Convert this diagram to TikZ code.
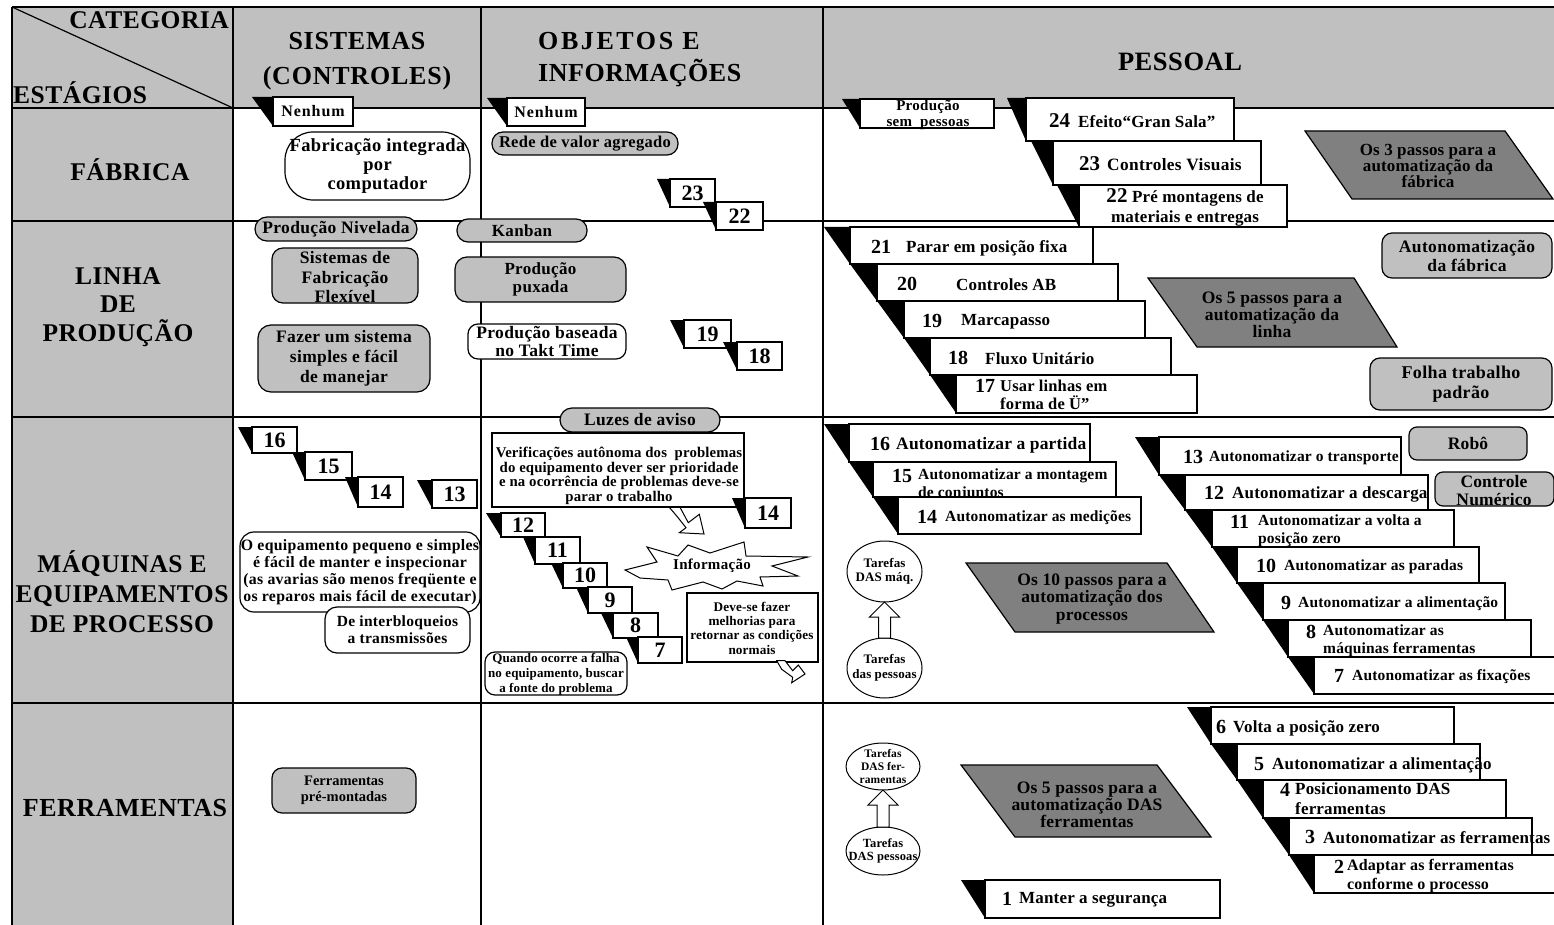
\documentclass[tikz,border=0pt]{standalone}
\usepackage{fontspec}
\setmainfont{Liberation Serif}
\newfontfamily\tnr{Liberation Serif}
\usetikzlibrary{shapes.geometric,calc}
\definecolor{lightgr}{HTML}{C0C0C0}
\definecolor{darkgr}{HTML}{808080}
% bold serif at a given size / line skip / letter spacing
\newcommand\setfnt[3]{\tnr\bfseries\fontsize{#1}{#2}\selectfont\addfontfeature{LetterSpace=#3}}
\newcommand\numf{\tnr\bfseries\fontsize{22}{22}\selectfont}
% black wedge on the left side of a step box
\newcommand\flagtip[2]{\fill (#1.north west) -- ++(-#2,0) -- (#1.south west) -- cycle;}
\tikzset{
  gridline/.style={line width=1.8pt},
  frame/.style={draw, line width=1.2pt, inner sep=0pt, outer sep=0pt, anchor=north west},
  wbox/.style={frame, fill=white},
  gbox/.style={frame, fill=lightgr},
  hdtext/.style={inner sep=0pt, font=\setfnt{25.5}{30}{2}, align=center},
  tx/.style={inner sep=0pt, align=center, font=\setfnt{17.5}{20}{2}},
  sn/.style={inner sep=0pt, anchor=west, font=\tnr\bfseries\fontsize{20}{20}\selectfont},
  stt/.style={inner sep=0pt, anchor=west, align=left, font=\setfnt{17}{18}{1}},
  mtt/.style={stt, font=\setfnt{15.5}{17.5}{1}},
  plg/.style={fill=darkgr, draw, line width=1.2pt},
  blockarrow/.style={fill=white, draw, line width=1pt, line join=miter},
  oval/.style={draw, ellipse, line width=1pt, inner sep=0pt, outer sep=0pt, fill=white},
}
\begin{document}
\begin{tikzpicture}[x=1pt,y=-1pt]
\useasboundingbox (0,0) rectangle (1554,925);
% shaded header row and stage column
\fill[lightgr] (12,7) rectangle (1554,108);
\fill[lightgr] (12,108) rectangle (233,925);
% table grid
\draw[gridline] (12,7) -- (1554,7);
\foreach \yy in {108,221,417,703} \draw[gridline] (12,\yy) -- (1554,\yy);
\foreach \xx in {12,233,481,823} \draw[gridline] (\xx,7) -- (\xx,925);
\draw[line width=1.2pt] (12,7) -- (233,108);

% headers
\node[hdtext, anchor=base east] (hcat) at (229,29) {CATEGORIA};
\node[hdtext, anchor=base west] (hest) at (13,104) {ESTÁGIOS};
\node[hdtext, font=\setfnt{26}{35}{3}] (hsis) at (357,61) {SISTEMAS\\(CONTROLES)};
\node[hdtext, font=\setfnt{26}{32}{2}, align=left, anchor=west] (hobj) at (538,60) {{\addfontfeature{LetterSpace=10}OBJETOS E}\\INFORMAÇÕES};
\node[hdtext, font=\setfnt{26.5}{30}{2}] (hpes) at (1180,62) {PESSOAL};

% stages
\node[hdtext] (rfab) at (130,170) {FÁBRICA};
\node[hdtext, font=\setfnt{25.5}{28.5}{2}] (rlin) at (118,307) {LINHA\\DE\\PRODUÇÃO};
\node[hdtext, font=\setfnt{25.5}{30}{2}] (rmaq) at (122,592) {MÁQUINAS E\\EQUIPAMENTOS\\DE PROCESSO};
\node[hdtext, font=\setfnt{26}{30}{2}] (rfer) at (125,808) {FERRAMENTAS};

% ---------------- SISTEMAS (CONTROLES)
\node[wbox, minimum width=80, minimum height=29] (sNen) at (273,97) {};
\flagtip{sNen}{21}
\node[tx, font=\setfnt{16}{18}{6}] (sNenT) at (sNen) {Nenhum};
\node[wbox, rounded corners=28pt, minimum width=185, minimum height=68] (sFab) at (285,132) {};
\node[tx, font=\setfnt{18.5}{19}{2}] (sFabT) at (sFab) {Fabricação integrada\\por\\computador};
\node[gbox, rounded corners=12pt, minimum width=162, minimum height=24] (sNiv) at (255,217) {};
\node[tx] (sNivT) at (sNiv) {Produção Nivelada};
\node[gbox, rounded corners=11pt, minimum width=146, minimum height=55] (sFlex) at (272,248) {};
\node[tx, font=\setfnt{17.5}{19.5}{2}] (sFlexT) at ([yshift=-2pt]sFlex.center) {Sistemas de\\Fabricação\\Flexível};
\node[gbox, rounded corners=13pt, minimum width=172, minimum height=67] (sSimp) at (258,325) {};
\node[tx, font=\setfnt{17.5}{20}{2}] (sSimpT) at (sSimp) {Fazer um sistema\\simples e fácil\\de manejar};

\node[wbox, minimum width=45, minimum height=26] (s16) at (252,427) {\numf 16};
\flagtip{s16}{14}
\node[wbox, minimum width=47, minimum height=28] (s15) at (305,452) {\numf 15};
\flagtip{s15}{13}
\node[wbox, minimum width=45, minimum height=30] (s14) at (358,477) {\numf 14};
\flagtip{s14}{13}
\node[wbox, minimum width=45, minimum height=28] (s13) at (432,480) {\numf 13};
\flagtip{s13}{15}

\node[wbox, rounded corners=14pt, minimum width=240, minimum height=80] (sEq) at (240,532) {};
\node[tx, font=\setfnt{15.8}{17}{2}] (sEqT) at (sEq) {O equipamento pequeno e simples\\é fácil de manter e inspecionar\\(as avarias são menos freqüente e\\os reparos mais fácil de executar)};
\node[wbox, rounded corners=12pt, minimum width=145, minimum height=46] (sInt) at (325,607) {};
\node[tx, font=\setfnt{15.5}{17}{2}] (sIntT) at (sInt) {De interbloqueios\\a transmissões};

\node[gbox, rounded corners=10pt, minimum width=144, minimum height=45] (sFer) at (272,768) {};
\node[tx, font=\setfnt{14.5}{16}{0}] (sFerT) at (sFer) {Ferramentas\\pré-montadas};

% ---------------- OBJETOS E INFORMAÇÕES
\node[wbox, minimum width=78, minimum height=28] (oNen) at (507,98) {};
\flagtip{oNen}{20}
\node[tx, font=\setfnt{16}{18}{6}] (oNenT) at (oNen) {Nenhum};
\node[gbox, rounded corners=11pt, minimum width=186, minimum height=23] (oRede) at (492,132) {};
\node[tx, font=\setfnt{16.5}{18}{2}] (oRedeT) at (oRede) {Rede de valor agregado};
\node[wbox, minimum width=45, minimum height=28] (o23) at (670,179) {\numf 23};
\flagtip{o23}{13}
\node[wbox, minimum width=47, minimum height=28] (o22) at (716,202) {\numf 22};
\flagtip{o22}{13}

\node[gbox, rounded corners=11pt, minimum width=130, minimum height=23] (oKan) at (457,219) {};
\node[tx, font=\setfnt{17}{18}{2}] (oKanT) at (oKan) {Kanban};
\node[gbox, rounded corners=12pt, minimum width=171, minimum height=45] (oPux) at (455,257) {};
\node[tx, font=\setfnt{17}{18}{2}] (oPuxT) at (oPux) {Produção\\puxada};
\node[wbox, rounded corners=10pt, minimum width=158, minimum height=35] (oTakt) at (468,324) {};
\node[tx, font=\setfnt{17.5}{18}{2}] (oTaktT) at (oTakt) {Produção baseada\\no Takt Time};
\node[wbox, minimum width=47, minimum height=28] (o19) at (684,320) {\numf 19};
\flagtip{o19}{14}
\node[wbox, minimum width=45, minimum height=28] (o18) at (737,342) {\numf 18};
\flagtip{o18}{14}

\node[gbox, rounded corners=12pt, minimum width=160, minimum height=24] (oLuz) at (560,408) {};
\node[tx] (oLuzT) at (oLuz) {Luzes de aviso};
\node[wbox, minimum width=252, minimum height=74] (oVer) at (492,433) {};
\node[tx, font=\setfnt{14.8}{14.5}{1}] (oVerT) at (619,476) {Verificações autônoma dos~ problemas\\do equipamento dever ser prioridade\\e na ocorrência de problemas deve-se\\parar o trabalho};
% hollow bent arrow under the text box
\draw[blockarrow] (669.3,507.3) -- (680,507.3) -- (688.3,522.7) -- (699.3,514.3) -- (704,534) -- (679.3,532.7) -- (686,527.7) -- (677.3,516.7) -- cycle;
\node[wbox, minimum width=46, minimum height=30] (o14) at (745,498) {\numf 14};
\flagtip{o14}{13}

\node[wbox, minimum width=44, minimum height=24] (o12) at (501,513) {\numf 12};
\flagtip{o12}{15}
\node[wbox, minimum width=45, minimum height=27] (o11) at (535,537) {\numf 11};
\flagtip{o11}{12}
\node[wbox, minimum width=44, minimum height=25] (o10) at (563,563) {\numf 10};
\flagtip{o10}{12}
\node[wbox, minimum width=44, minimum height=26] (o9) at (588,587) {\numf 9};
\flagtip{o9}{12}
\node[wbox, minimum width=45, minimum height=25] (o8) at (613,613) {\numf 8};
\flagtip{o8}{12}
\node[wbox, minimum width=44, minimum height=26] (o7) at (638,637) {\numf 7};
\flagtip{o7}{12}

% starburst
\draw[fill=white, line width=1pt] (625,570) -- (657,562) -- (647,547) -- (678,556) -- (688,545) -- (710,553) -- (744,542) -- (746,556) -- (808,557) -- (772,566) -- (798,576) -- (760,577) -- (763,586) -- (737,581) -- (722,589) -- (703,582) -- (672,590) -- (668,580) -- (640,578) -- cycle;
\node[tx, font=\setfnt{15}{15}{2}] (oInfo) at (712,566) {Informação};

\node[wbox, minimum width=131, minimum height=69] (oDev) at (687,593) {};
\node[tx, font=\setfnt{13.2}{14.3}{1}] (oDevT) at (752,628) {Deve-se fazer\\melhorias para\\retornar as condições\\normais};
\draw[blockarrow] (776.7,660.7) -- (785,660.7) -- (792.7,670.7) -- (798.3,665) -- (805,674) -- (791.7,682.7) -- (792.7,677.3) -- (781.7,669.3) -- cycle;

\node[wbox, rounded corners=10pt, minimum width=142, minimum height=43] (oQuan) at (485,652) {};
\node[tx, font=\setfnt{13}{15}{1}] (oQuanT) at (556,674) {Quando ocorre a falha\\no equipamento, buscar\\a fonte do problema};

% ---------------- PESSOAL : fábrica
\node[wbox, minimum width=134, minimum height=29] (pSem) at (860,99) {};
\flagtip{pSem}{18}
\node[tx, font=\setfnt{15}{15.5}{2}] (pSemT) at (928,115) {Produção\\sem~ pessoas};

\node[wbox, minimum width=208, minimum height=43] (p24) at (1026,98) {};
\flagtip{p24}{19}
\node[sn, font=\tnr\bfseries\fontsize{21}{21}\selectfont] (p24n) at (1049,121) {24};
\node[stt] (p24t) at (1078,122) {Efeito“Gran Sala”};
\node[wbox, minimum width=208, minimum height=44] (p23) at (1053,141) {};
\flagtip{p23}{22}
\node[sn, font=\tnr\bfseries\fontsize{21}{21}\selectfont] (p23n) at (1079,164) {23};
\node[stt, font=\setfnt{17.3}{18}{2}] (p23t) at (1107,165) {Controles Visuais};
\node[wbox, minimum width=208, minimum height=42] (p22) at (1079,185) {};
\flagtip{p22}{22}
\node[tx, font=\setfnt{17}{20}{1}] (p22t) at (1185,207) {{\fontsize{21}{20}\selectfont 22} Pré montagens de\\materiais e entregas};

\path[plg] (1305,131) -- (1505,131) -- (1553,199) -- (1352,199) -- cycle;
\node[tx, font=\setfnt{17}{16}{1}] (pOs3) at (1428,166) {Os 3 passos para a\\automatização da\\fábrica};

% ---------------- PESSOAL : linha de produção
\node[wbox, minimum width=243, minimum height=37] (p21) at (850,227) {};
\flagtip{p21}{26}
\node[sn] (p21n) at (871,247) {21};
\node[stt] (p21t) at (906,248) {Parar em posição fixa};
\node[wbox, minimum width=241, minimum height=37] (p20) at (877,264) {};
\flagtip{p20}{27}
\node[sn] (p20n) at (897,284) {20};
\node[stt] (p20t) at (956,285) {Controles AB};
\node[wbox, minimum width=241, minimum height=37] (p19) at (904,301) {};
\flagtip{p19}{27}
\node[sn] (p19n) at (922,321) {19};
\node[stt] (p19t) at (961,322) {Marcapasso};
\node[wbox, minimum width=241, minimum height=37] (p18) at (930,338) {};
\flagtip{p18}{26}
\node[sn] (p18n) at (948,358) {18};
\node[stt] (p18t) at (985,359) {Fluxo Unitário};
\node[wbox, minimum width=241, minimum height=38] (p17) at (956,375) {};
\flagtip{p17}{26}
\node[sn] (p17n) at (975,386) {17};
\node[stt, font=\setfnt{16.5}{18.5}{1}] (p17t) at (1000,395) {Usar linhas em\\forma de Ü”};

\node[gbox, rounded corners=10pt, minimum width=170, minimum height=45] (pAut) at (1382,233) {};
\node[tx, font=\setfnt{17.5}{19}{2}] (pAutT) at (pAut) {Autonomatização\\da fábrica};
\path[plg] (1148,278) -- (1354,278) -- (1397,347) -- (1197,347) -- cycle;
\node[tx, font=\setfnt{17.5}{17}{1}] (pOs5) at (1272,315) {Os 5 passos para a\\automatização da\\linha};
\node[gbox, rounded corners=10pt, minimum width=182, minimum height=52] (pFol) at (1370,358) {};
\node[tx, font=\setfnt{18}{20}{2}] (pFolT) at (pFol) {Folha trabalho\\padrão};

% ---------------- PESSOAL : máquinas
\node[wbox, minimum width=241, minimum height=38] (p16) at (849,424) {};
\flagtip{p16}{25}
\node[sn] (p16n) at (870,444) {16};
\node[stt, font=\setfnt{17.5}{18}{1}] (p16t) at (896,445) {Autonomatizar a partida};
\node[wbox, minimum width=243, minimum height=35] (p15) at (873,462) {};
\flagtip{p15}{24}
\node[sn] (p15n) at (892,476) {15};
\node[mtt] (p15t) at (918,485) {Autonomatizar a montagem\\de conjuntos};
\node[wbox, minimum width=243, minimum height=37] (p14) at (898,497) {};
\flagtip{p14}{25}
\node[sn] (p14n) at (917,517) {14};
\node[mtt] (p14t) at (945,518) {Autonomatizar as medições};

\node[oval, minimum width=75, minimum height=61] (tM) at (884.5,571.5) {};
\node[tx, font=\setfnt{13}{14}{1}] (tMT) at (tM) {Tarefas\\DAS máq.};
\node[oval, minimum width=75, minimum height=60] (tP) at (884.5,668) {};
\node[tx, font=\setfnt{13}{15}{1}] (tPT) at (tP) {Tarefas\\das pessoas};
\draw[blockarrow] let \p1=(tP.north), \p2=(tM.south) in
  (\x2,\y2) -- (\x2+15pt,\y2-15pt) -- (\x2+6pt,\y2-15pt) -- (\x2+6pt,\y1) -- (\x2-6pt,\y1) -- (\x2-6pt,\y2-15pt) -- (\x2-15pt,\y2-15pt) -- cycle;

\path[plg] (966,563) -- (1167,563) -- (1214,632) -- (1015,632) -- cycle;
\node[tx, font=\setfnt{17.5}{17.5}{1}] (pOs10) at (1092,599) {Os 10 passos para a\\automatização dos\\processos};

\node[wbox, minimum width=242, minimum height=38] (p13) at (1159,437) {};
\flagtip{p13}{24}
\node[sn] (p13n) at (1183,457) {13};
\node[mtt] (p13t) at (1209,458) {Autonomatizar o transporte};
\node[wbox, minimum width=243, minimum height=35] (p12) at (1185,475) {};
\flagtip{p12}{26}
\node[sn] (p12n) at (1204,493) {12};
\node[mtt, font=\setfnt{17}{17}{1}] (p12t) at (1232,494) {Autonomatizar a descarga};
\node[wbox, minimum width=242, minimum height=37] (p11) at (1212,510) {};
\flagtip{p11}{27}
\node[sn] (p11n) at (1230,522) {11};
\node[mtt] (p11t) at (1258,531) {Autonomatizar a volta a\\posição zero};
\node[wbox, minimum width=242, minimum height=36] (p10) at (1237,547) {};
\flagtip{p10}{25}
\node[sn] (p10n) at (1256,566) {10};
\node[mtt] (p10t) at (1284,567) {Autonomatizar as paradas};
\node[wbox, minimum width=242, minimum height=37] (p9) at (1263,583) {};
\flagtip{p9}{26}
\node[sn] (p9n) at (1281,603) {9};
\node[mtt] (p9t) at (1298,604) {Autonomatizar a alimentação};
\node[wbox, minimum width=243, minimum height=37] (p8) at (1288,620) {};
\flagtip{p8}{25}
\node[sn] (p8n) at (1306,632) {8};
\node[mtt] (p8t) at (1323,641) {Autonomatizar as\\máquinas ferramentas};
\node[wbox, minimum width=245, minimum height=37] (p7) at (1314,657) {};
\flagtip{p7}{26}
\node[sn] (p7n) at (1334,676) {7};
\node[mtt] (p7t) at (1352,677) {Autonomatizar as fixações};

\node[gbox, rounded corners=8pt, minimum width=118, minimum height=33] (pRob) at (1409,427) {};
\node[tx, font=\setfnt{17.5}{18}{1}] (pRobT) at (pRob) {Robô};
\node[gbox, rounded corners=8pt, minimum width=119, minimum height=34] (pCN) at (1435,472) {};
\node[tx, font=\setfnt{17.5}{18}{1}] (pCNT) at (1494,491) {Controle\\Numérico};

% ---------------- PESSOAL : ferramentas
\node[oval, minimum width=74, minimum height=47] (tF) at (883,766.5) {};
\node[tx, font=\setfnt{11.5}{12.5}{1}] (tFT) at (tF) {Tarefas\\DAS fer-\\ramentas};
\node[oval, minimum width=74, minimum height=48] (tPF) at (883,851) {};
\node[tx, font=\setfnt{12.5}{13.5}{1}] (tPFT) at (tPF) {Tarefas\\DAS pessoas};
\draw[blockarrow] let \p1=(tPF.north), \p2=(tF.south) in
  (\x2,\y2) -- (\x2+15pt,\y2-15pt) -- (\x2+6pt,\y2-15pt) -- (\x2+6pt,\y1) -- (\x2-6pt,\y1) -- (\x2-6pt,\y2-15pt) -- (\x2-15pt,\y2-15pt) -- cycle;

\path[plg] (961,765) -- (1157,765) -- (1211,837) -- (1015,837) -- cycle;
\node[tx, font=\setfnt{17.5}{17}{1}] (pOs5f) at (1087,805) {Os 5 passos para a\\automatização DAS\\ferramentas};

\node[wbox, minimum width=243, minimum height=37] (p6) at (1211,707) {};
\flagtip{p6}{24}
\node[sn] (p6n) at (1216,727) {6};
\node[stt] (p6t) at (1233,728) {Volta a posição zero};
\node[wbox, minimum width=243, minimum height=36] (p5) at (1237,744) {};
\flagtip{p5}{26}
\node[sn] (p5n) at (1254,764) {5};
\node[stt] (p5t) at (1272,765) {Autonomatizar a alimentação};
\node[wbox, minimum width=243, minimum height=38] (p4) at (1263,780) {};
\flagtip{p4}{26}
\node[sn] (p4n) at (1280,790) {4};
\node[stt, font=\setfnt{17}{20}{1}] (p4t) at (1295,799) {Posicionamento DAS\\ferramentas};
\node[wbox, minimum width=243, minimum height=37] (p3) at (1289,818) {};
\flagtip{p3}{26}
\node[sn] (p3n) at (1305,837) {3};
\node[stt] (p3t) at (1323,838) {Autonomatizar as ferramentas};
\node[wbox, minimum width=245, minimum height=38] (p2) at (1314,855) {};
\flagtip{p2}{25}
\node[sn] (p2n) at (1334,867) {2};
\node[stt, font=\setfnt{16}{18.5}{1}] (p2t) at (1347,876) {Adaptar as ferramentas\\conforme o processo};
\node[wbox, minimum width=235, minimum height=38] (p1) at (985,880) {};
\flagtip{p1}{24}
\node[sn] (p1n) at (1002,899) {1};
\node[stt] (p1t) at (1019,900) {Manter a segurança};
\end{tikzpicture}
\end{document}
